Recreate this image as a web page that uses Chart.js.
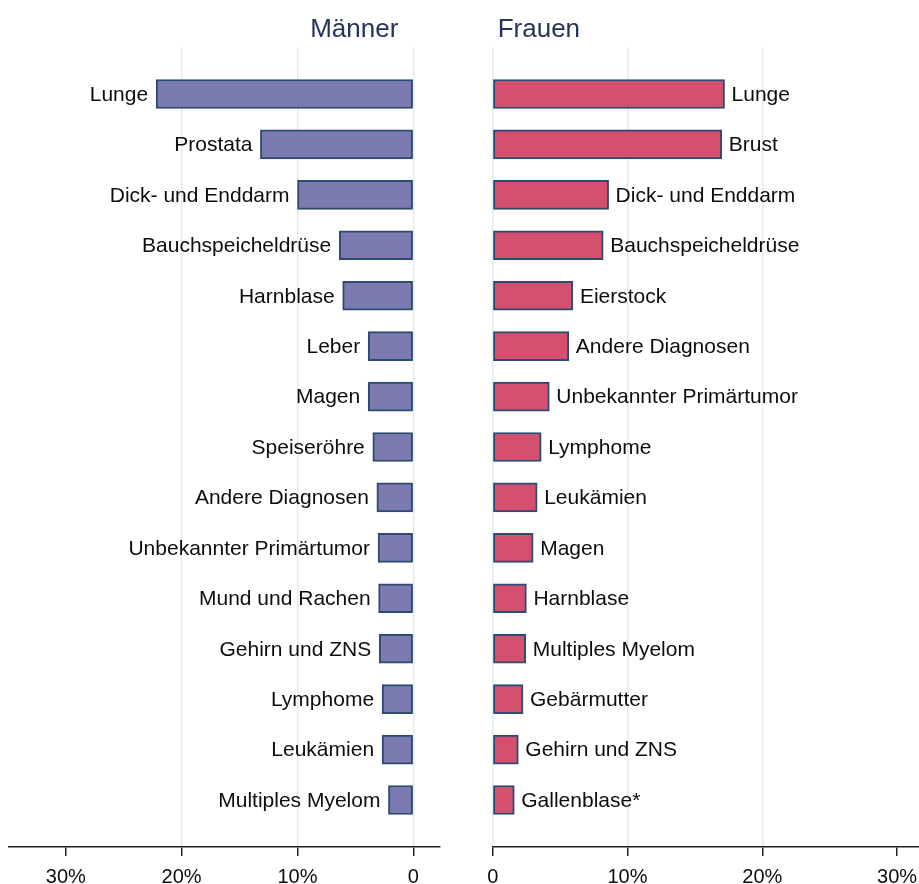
<!DOCTYPE html>
<html><head><meta charset="utf-8">
<script src="https://cdn.jsdelivr.net/npm/chart.js@4"></script>
<style>
body{margin:0;background:#fff;width:919px;height:884px;overflow:hidden;position:relative}
#cm{position:absolute;left:0;top:0}
#cw{position:absolute;left:460px;top:0}
</style>
</head><body>
<canvas id="cm" width="460" height="884"></canvas>
<canvas id="cw" width="500" height="884"></canvas>
<script>
const menCategories = ['Lunge','Prostata','Dick- und Enddarm','Bauchspeicheldrüse','Harnblase','Leber','Magen','Speiseröhre','Andere Diagnosen','Unbekannter Primärtumor','Mund und Rachen','Gehirn und ZNS','Lymphome','Leukämien','Multiples Myelom'];
const menValues = [22.2,13.2,10.0,6.4,6.1,3.9,3.9,3.5,3.15,3.05,3.0,2.95,2.7,2.7,2.15];
const womenCategories = ['Lunge','Brust','Dick- und Enddarm','Bauchspeicheldrüse','Eierstock','Andere Diagnosen','Unbekannter Primärtumor','Lymphome','Leukämien','Magen','Harnblase','Multiples Myelom','Gebärmutter','Gehirn und ZNS','Gallenblase*'];
const womenValues = [17.2,17.0,8.6,8.2,5.95,5.65,4.2,3.6,3.3,3.0,2.5,2.45,2.25,1.9,1.6];
const tickValues = [0,10,20,30];
const panelTitles = ['Männer','Frauen'];

Chart.defaults.font.family = "'Liberation Sans', Arial, sans-serif";

const barLabels = {
  id: 'barLabels',
  afterDatasetsDraw(chart, args, opts) {
    const ctx = chart.ctx;
    const meta = chart.getDatasetMeta(0);
    ctx.save();
    ctx.font = "21px 'Liberation Sans', Arial, sans-serif";
    ctx.fillStyle = '#0d0d0d';
    ctx.textBaseline = 'middle';
    meta.data.forEach((bar, i) => {
      const label = opts.labels[i];
      if (opts.side === 'left') {
        ctx.textAlign = 'right';
        ctx.fillText(label, bar.x - 8, bar.y + 1);
      } else {
        ctx.textAlign = 'left';
        ctx.fillText(label, bar.x + 7, bar.y + 1);
      }
    });
    const xs = chart.scales.x;
    const zero = xs.getPixelForValue(0);
    ctx.font = "26px 'Liberation Sans', Arial, sans-serif";
    ctx.fillStyle = '#26335a';
    ctx.textBaseline = 'alphabetic';
    if (opts.side === 'left') {
      ctx.textAlign = 'right';
      ctx.fillText(opts.title, zero - 15, 37);
    } else {
      ctx.textAlign = 'left';
      ctx.fillText(opts.title, zero + 5, 37);
    }
    ctx.restore();
  }
};

function makeChart(id, cats, vals, side, title, color, xmin, xmax, pad) {
  return new Chart(document.getElementById(id), {
    type: 'bar',
    data: {
      datasets: [{
        data: vals.map((v, i) => ({x: v, y: i})),
        backgroundColor: color,
        borderColor: '#2d4a70',
        borderWidth: 2,
        borderSkipped: false,
        barThickness: 29
      }]
    },
    options: {
      indexAxis: 'y',
      responsive: false,
      animation: false,
      devicePixelRatio: 1,
      layout: {padding: pad},
      plugins: {
        legend: {display: false},
        tooltip: {enabled: false},
        barLabels: {labels: cats, side: side, title: title}
      },
      scales: {
        y: {
          type: 'linear',
          reverse: true,
          offset: false,
          grid: {offset: false},
          min: -0.932,
          max: cats.length - 1 + 0.932,
          display: false
        },
        x: {
          type: 'linear',
          reverse: side === 'left',
          offset: false,
          min: xmin,
          max: xmax,
          afterBuildTicks(scale) { scale.ticks = tickValues.map(v => ({value: v})); },
          afterFit(scale) { scale.height = 37; },
          grid: {
            color: ctx => (ctx.tick && ctx.tick.value === 30) ? 'rgba(0,0,0,0)' : '#e1edf1',
            lineWidth: 1.5,
            tickColor: '#222',
            tickWidth: 1.5,
            tickLength: 9,
            drawOnChartArea: true
          },
          border: {display: true, color: '#222', width: 1.5},
          ticks: {
            autoSkip: false,
            maxRotation: 0,
            padding: 9,
            color: '#0d0d0d',
            font: {size: 20},
            callback: v => v === 0 ? '0' : v + '%'
          }
        }
      }
    },
    plugins: [barLabels]
  });
}

makeChart('cm', menCategories, menValues, 'left', panelTitles[0], '#7b7bb2', -2.3, 34.9, {left: 9, right: 20, top: 47, bottom: 0});
makeChart('cw', womenCategories, womenValues, 'right', panelTitles[1], '#d4506e', 0, 34.67, {left: 32.7, right: 0, top: 47, bottom: 0});
</script>
</body></html>
